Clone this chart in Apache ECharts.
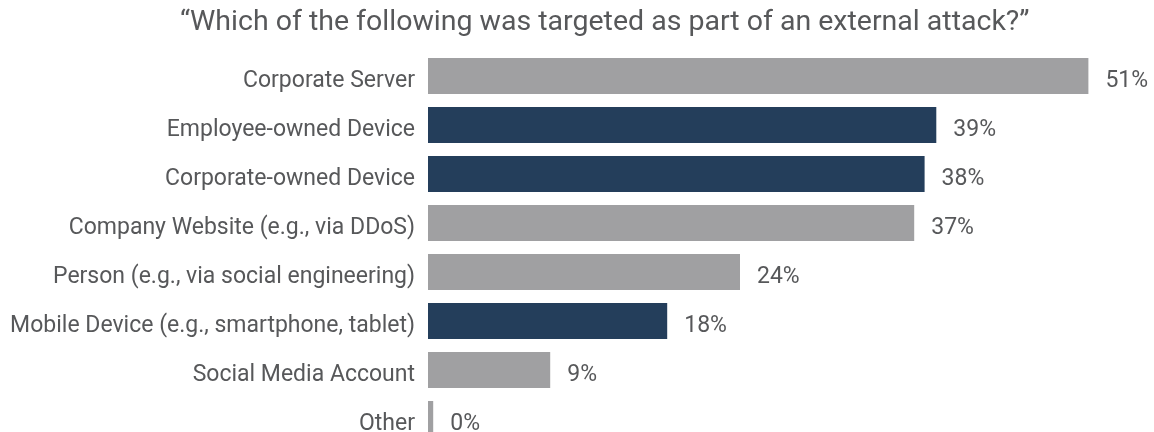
<!DOCTYPE html>
<html>
<head>
<meta charset="utf-8">
<script src="https://cdn.jsdelivr.net/npm/echarts@6/dist/echarts.min.js"></script>
<style>html,body{margin:0;padding:0;background:#fff;overflow:hidden;}#c{width:1154px;height:444px;}</style>
</head>
<body>
<div id="c"></div>
<script>
const titleText = '\u201CWhich of the following was targeted as part of an external attack?\u201D';
const categories = [
  'Corporate Server',
  'Employee-owned Device',
  'Corporate-owned Device',
  'Company Website (e.g., via DDoS)',
  'Person (e.g., via social engineering)',
  'Mobile Device (e.g., smartphone, tablet)',
  'Social Media Account',
  'Other'
];
const values = [50.8, 39.1, 38.2, 37.4, 24.0, 18.4, 9.4, 0.4];
const highlighted = [false, true, true, false, false, true, false, false];
const GRAY = '#a0a0a2';
const NAVY = '#243e5b';
const TEXT = '#57585a';

const chart = echarts.init(document.getElementById('c'));
chart.setOption({
  backgroundColor: '#ffffff',
  animation: false,
  title: {
    text: titleText,
    left: 175,
    top: 3,
    textStyle: { fontFamily: 'Roboto', fontSize: 28.5, fontWeight: 'normal', color: TEXT }
  },
  grid: { left: 428, right: 11, top: 51.5, bottom: 0.5, containLabel: false },
  xAxis: {
    type: 'value', min: 0, max: 55,
    show: false
  },
  yAxis: {
    type: 'category', data: categories, inverse: true,
    axisLine: { show: false }, axisTick: { show: false },
    axisLabel: { fontFamily: 'Roboto', fontSize: 23, color: TEXT, margin: 13, verticalAlign: 'top', lineHeight: 11 }
  },
  series: [{
    type: 'bar',
    barWidth: 36,
    data: values.map((v, i) => ({ value: v, itemStyle: { color: highlighted[i] ? NAVY : GRAY } })),
    label: {
      show: true, position: 'right', distance: 17, verticalAlign: 'top', lineHeight: 11,
      fontFamily: 'Roboto', fontSize: 23, color: TEXT,
      formatter: p => Math.round(p.value) + '%'
    }
  }]
});
</script>
</body>
</html>
